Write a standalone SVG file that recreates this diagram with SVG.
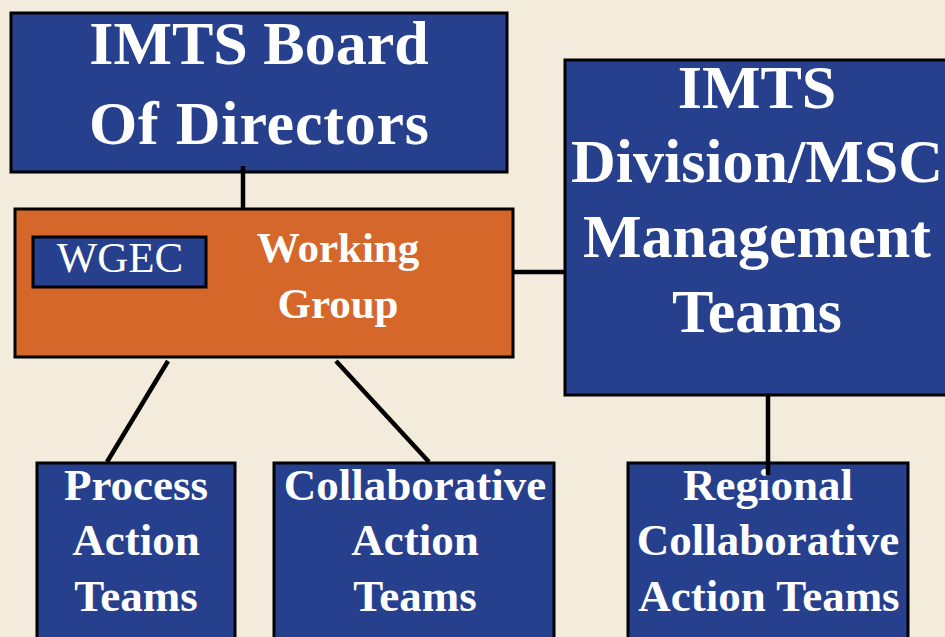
<svg xmlns="http://www.w3.org/2000/svg" width="945" height="637" viewBox="0 0 945 637">
  <style>
    .blue { fill: #26408E; stroke: #000; stroke-width: 3; }
    .orange { fill: #D5672B; stroke: #000; stroke-width: 3; }
    .t { font-family: "Liberation Serif", "Times New Roman", serif; font-weight: bold; fill: #fff; text-anchor: middle; }
    .big { font-size: 62px; }
    .mid { font-size: 43px; }
    .small { font-size: 45px; }
    .plain { font-family: "Liberation Serif", "Times New Roman", serif; font-weight: normal; fill: #fff; text-anchor: middle; font-size: 43px; }
    .conn { stroke: #000; stroke-width: 4.5; fill: none; }
  </style>
  <rect width="945" height="637" fill="#F3EBDC"/>

  <g id="board">
    <rect class="blue" x="11" y="13" width="496" height="159"/>
    <text class="t big" x="259" y="64">IMTS Board</text>
    <text class="t big" x="259" y="144" textLength="340">Of Directors</text>
  </g>

  <g id="working-group">
    <rect class="orange" x="15" y="209" width="498" height="148"/>
    <text class="t mid" x="338" y="262">Working</text>
    <text class="t mid" x="338" y="318">Group</text>
  </g>

  <g id="wgec">
    <rect class="blue" x="33" y="237" width="173" height="50" stroke-width="2"/>
    <text class="plain" x="120" y="272">WGEC</text>
  </g>

  <g id="division">
    <rect class="blue" x="565" y="60" width="395" height="335"/>
    <text class="t big" x="757" y="108">IMTS</text>
    <text class="t big" x="757" y="182">Division/MSC</text>
    <text class="t big" x="757" y="257">Management</text>
    <text class="t big" x="757" y="332">Teams</text>
  </g>

  <g id="process">
    <rect class="blue" x="37" y="463" width="198" height="190"/>
    <text class="t small" x="136" y="500">Process</text>
    <text class="t small" x="136" y="555">Action</text>
    <text class="t small" x="136" y="611">Teams</text>
  </g>

  <g id="collaborative">
    <rect class="blue" x="274" y="463" width="280" height="190"/>
    <text class="t small" x="415" y="500">Collaborative</text>
    <text class="t small" x="415" y="555">Action</text>
    <text class="t small" x="415" y="611">Teams</text>
  </g>

  <g id="regional">
    <rect class="blue" x="628" y="463" width="280" height="190"/>
    <text class="t small" x="768" y="500">Regional</text>
    <text class="t small" x="768" y="555">Collaborative</text>
    <text class="t small" x="769" y="611">Action Teams</text>
  </g>

  <g id="connectors">
    <line class="conn" x1="243" y1="166" x2="243" y2="208"/>
    <line class="conn" x1="513" y1="272" x2="565" y2="272"/>
    <line class="conn" x1="768" y1="395" x2="768" y2="475"/>
    <line class="conn" x1="168" y1="361" x2="107" y2="462"/>
    <line class="conn" x1="336" y1="361" x2="429" y2="462"/>
  </g>
</svg>
